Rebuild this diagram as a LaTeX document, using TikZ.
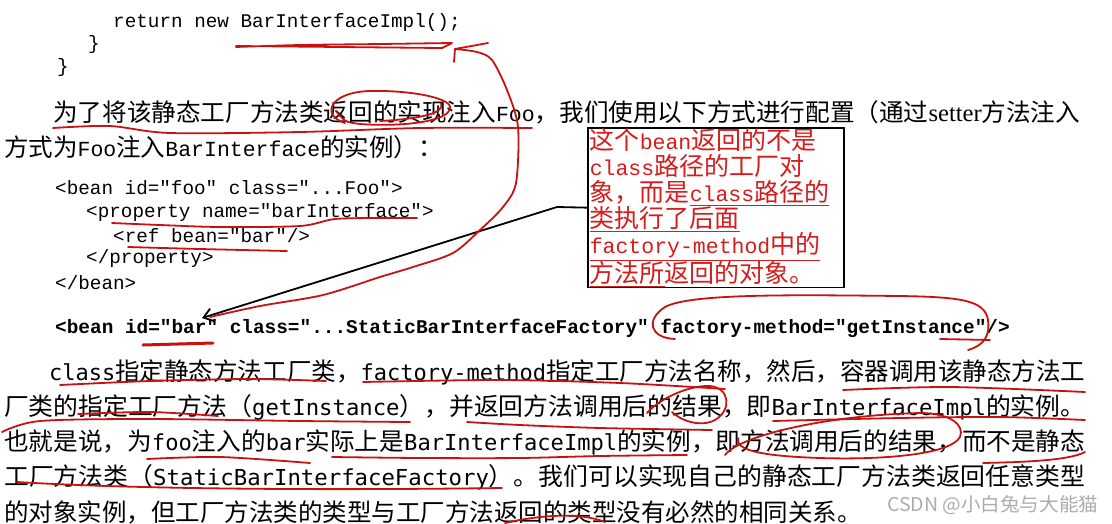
\documentclass[tikz,border=0pt]{standalone}
\usepackage{fontspec}
\usepackage{graphicx}
\setmainfont{Noto Sans CJK SC}
\newfontfamily\codefont{Liberation Mono}
\newfontfamily\smfont{DejaVu Sans Mono}
\newfontfamily\serfont{Liberation Serif}
\usepackage{tikz}
\usetikzlibrary{arrows.meta}

\definecolor{penred}{RGB}{200,18,18}
\definecolor{notered}{RGB}{214,28,28}
\definecolor{wmgray}{RGB}{172,172,172}

\newcommand{\cd}[1]{{\codefont\fontsize{21.5}{26}\selectfont #1}}
\newcommand{\sm}[1]{{\smfont\fontsize{22}{26}\selectfont #1}}
\newcommand{\fitline}[2]{\resizebox{#1}{\height}{#2}}

\tikzset{
  txt/.style={anchor=west, inner sep=0pt},
  cjk/.style={txt, font=\fontsize{24.5}{28}\selectfont},
  code/.style={txt, font=\codefont\fontsize{19.3}{22}\selectfont},
  scrawl/.style={draw=penred, line width=1.8pt, line cap=round, line join=round},
  notebox/.style={anchor=north west, draw=black, line width=1.5pt, text=notered,
    font=\fontsize{25}{26}\selectfont, align=left, text width=252pt,
    inner xsep=2pt, inner ysep=1pt, minimum height=158pt}
}

\begin{document}
\begin{tikzpicture}[x=1pt,y=-1pt]
\fill[white] (0,0) rectangle (1112,523);
\useasboundingbox (0,0) rectangle (1112,523);

%code on top
\node[code] (ret) at (113,23) {return new BarInterfaceImpl();};
\node[code] (brace1) at (88,45) {\}};
\node[code] (brace2) at (57,68) {\}};

%paragraph
\node[cjk] (p1) at (53,112) {\fitline{1027pt}{为了将该静态工厂方法类返回的实现注入\cd{Foo}，我们使用以下方式进行配置（通过{\serfont setter}方法注入}};
\node[cjk] (p2) at (4,147) {方式为\cd{Foo}注入\cd{BarInterface}的实例）：};

%xml
\node[code] (c1) at (55,188) {<bean id="foo" class="...Foo">};
\node[code] (c2) at (86,213) {<property name="barInterface">};
\node[code] (c3) at (113,236) {<ref bean="bar"/>};
\node[code] (c4) at (86,259) {</property>};
\node[code] (c5) at (55,283) {</bean>};
\node[code, font=\codefont\bfseries\fontsize{19.4}{22}\selectfont] (cbar) at (55,328) {<bean id="bar" class="...StaticBarInterfaceFactory" factory-method="getInstance"/>};

%note
\node[notebox] (note) at (587,127) {这个\cd{bean}返回的不是\\
\cd{class}路径的工厂对\\
象，而是\underline{\cd{class}路径的}\\
\underline{类执行了后面}\\
\underline{\cd{factory-method}中的}\\
\underline{方法所}返回的对象。};

%text below
\node[cjk] (b1) at (49,372) {\fitline{1036pt}{\sm{class}指定静态方法工厂类，\sm{factory-method}指定工厂方法名称，然后，容器调用该静态方法工}};
\node[cjk] (b2) at (4,407) {\fitline{1081pt}{厂类的指定工厂方法（\sm{getInstance}），并返回方法调用后的结果，即\sm{BarInterfaceImpl}的实例。}};
\node[cjk] (b3) at (4,442) {\fitline{1081pt}{也就是说，为\sm{foo}注入的\sm{bar}实际上是\sm{BarInterfaceImpl}的实例，即方法调用后的结果，而不是静态}};
\node[cjk] (b4) at (4,477) {\fitline{1081pt}{工厂方法类（\sm{StaticBarInterfaceFactory}）。我们可以实现自己的静态工厂方法类返回任意类型}};
\node[cjk] (b5) at (4,512) {的对象实例，但工厂方法类的类型与工厂方法返回的类型没有必然的相同关系。};
\node[txt, text=wmgray, font=\fontsize{19}{22}\selectfont] (wm) at (887,505) {\fitline{211pt}{CSDN @小白兔与大能猫}};

%arrow to the bean
\coordinate (bend) at (557,207);
\coordinate (bartip) at (202,318);
\draw[line width=1.8pt, -{Straight Barb[length=9pt,width=13pt]}] (note.west) -- (bend) -- (bartip);

%red marks on top
\draw[scrawl] plot[smooth] coordinates {(236,47) (300,45) (380,44) (452,43)} -- (442,48) -- plot[smooth] coordinates {(440,48) (340,47) (236,46)};
\draw[scrawl] (488,43) -- (455,49) -- (454,62);
\draw[scrawl] plot[smooth] coordinates {(455,49) (477,52) (492,60) (507,90) (518,127) (516,183) (503,207) (480,230) (453,253) (413,267) (380,277) (323,295) (260,306) (210,317)};
\draw[scrawl] (345,123) .. controls (320,115) and (330,92) .. (370,91) .. controls (410,90) and (452,98) .. (450,108) .. controls (449,122) and (400,127) .. (360,124) .. controls (345,122) .. (336,111);
\draw[scrawl] (380,121) .. controls (420,119) and (446,113) .. (441,103);
\draw[scrawl] plot[smooth] coordinates {(53,128) (110,126) (170,133) (300,132) (420,128) (532,128)};

%red marks on xml
\draw[scrawl] plot[smooth] coordinates {(112,223) (160,225) (220,227) (300,226) (335,219) (380,218) (417,218)};
\draw[scrawl] plot[smooth] coordinates {(128,247) (200,249) (287,251)};
\draw[scrawl, line width=3pt] (143,345) -- (213,343);
\draw[scrawl] (675,339) .. controls (650,338) and (645,320) .. (665,307) .. controls (690,293) and (800,295) .. (900,296) .. controls (960,297) and (985,300) .. (988,320) .. controls (990,335) and (985,345) .. (968,350);
\draw[scrawl] (940,339) -- (990,340);

%red marks on text below
\draw[scrawl] plot[smooth] coordinates {(60,385) (150,381) (250,379) (326,381)};
\draw[scrawl] plot[smooth] coordinates {(363,382) (500,380) (620,383) (725,389)};
\draw[scrawl] plot[smooth] coordinates {(843,390) (950,387) (1085,392)};
\draw[scrawl] plot[smooth] coordinates {(78,414) (150,412) (218,416)};
\draw[scrawl] plot[smooth] coordinates {(2,432) (40,421) (150,419) (300,421) (410,422)};
\draw[scrawl] plot[smooth] coordinates {(467,422) (520,425) (600,428) (712,430)};
\draw[scrawl] (647,413) .. controls (660,398) and (690,385) .. (710,386) .. controls (730,388) and (732,410) .. (715,420) .. controls (700,428) and (680,420) .. (672,412);
\draw[scrawl] plot[smooth] coordinates {(773,421) (900,418) (1000,417) (1085,420)};
\draw[scrawl] (725,455) .. controls (740,435) and (830,415) .. (920,413) .. controls (950,413) and (965,425) .. (960,437) .. controls (950,455) and (880,460) .. (820,458) .. controls (760,456) and (735,450) .. (738,438);
\draw[scrawl] plot[smooth] coordinates {(147,459) (220,457) (310,463)};
\draw[scrawl] plot[smooth] coordinates {(332,457) (420,458) (520,458) (600,456) (687,455)};
\draw[scrawl] (983,463) .. controls (1030,462) and (1070,460) .. (1085,452);
\draw[scrawl] (17,482) .. controls (150,490) and (350,490) .. (502,488);
\draw[scrawl] (505,523) .. controls (540,515) and (580,512) .. (605,522);
\end{tikzpicture}
\end{document}
